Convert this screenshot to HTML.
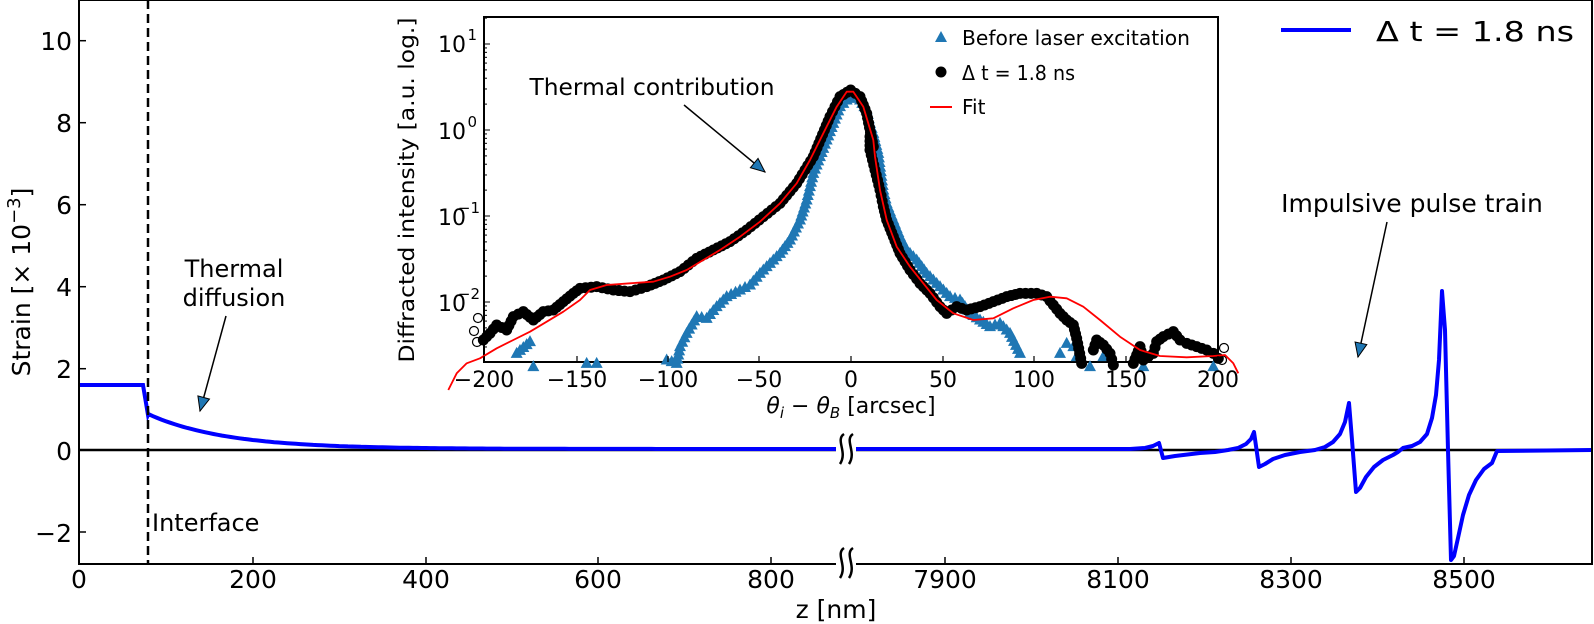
<!DOCTYPE html>
<html><head><meta charset="utf-8"><style>
html,body{margin:0;padding:0;background:#fff;}
svg{display:block;font-family:"DejaVu Sans","Liberation Sans",sans-serif;}
</style></head><body>
<svg id="s" width="1594" height="624" viewBox="0 0 1594 624" xmlns="http://www.w3.org/2000/svg">
<rect width="1594" height="624" fill="#fff"/>
<g id="main"></g>
<g id="inset"></g>
<g id="top"></g>
<g id="txt" fill="#000">
<g font-size="25" text-anchor="end">
<text x="72" y="50">10</text><text x="72" y="132">8</text><text x="72" y="214">6</text>
<text x="72" y="296">4</text><text x="72" y="378">2</text><text x="72" y="460">0</text>
<text x="72" y="542">−2</text>
</g>
<g font-size="25" text-anchor="middle">
<text x="79" y="588">0</text><text x="253" y="588">200</text><text x="426" y="588">400</text>
<text x="598" y="588">600</text><text x="771" y="588">800</text>
<text x="945" y="588">7900</text><text x="1118" y="588">8100</text><text x="1291" y="588">8300</text><text x="1464" y="588">8500</text>
<text x="836" y="618">z [nm]</text>
</g>
<text transform="translate(30,282) rotate(-90)" font-size="25" text-anchor="middle">Strain [× 10<tspan font-size="18" dy="-10">−3</tspan><tspan dy="10">]</tspan></text>
<text x="152" y="531" font-size="24">Interface</text>
<text x="234" y="277" font-size="24" text-anchor="middle">Thermal</text>
<text x="234" y="306" font-size="24" text-anchor="middle">diffusion</text>
<text x="1412" y="212" font-size="25" text-anchor="middle">Impulsive pulse train</text>
<line x1="1281" y1="30" x2="1351" y2="30" stroke="#0000ff" stroke-width="4"/>
<text x="1376" y="41" font-size="28" textLength="198" lengthAdjust="spacingAndGlyphs">Δ t = 1.8 ns</text>
<text x="652" y="95" font-size="23" text-anchor="middle" textLength="245" lengthAdjust="spacingAndGlyphs">Thermal contribution</text>
<g font-size="22" text-anchor="middle">
<text x="484" y="387">−200</text><text x="577" y="387">−150</text><text x="668" y="387">−100</text>
<text x="759" y="387">−50</text><text x="851" y="387">0</text><text x="943" y="387">50</text>
<text x="1034" y="387">100</text><text x="1126" y="387">150</text><text x="1218" y="387">200</text>
</g>
<text x="851" y="413" font-size="22" text-anchor="middle"><tspan font-style="italic">θ</tspan><tspan font-size="15" dy="5" font-style="italic">i</tspan><tspan dy="-5"> − </tspan><tspan font-style="italic">θ</tspan><tspan font-size="15" dy="5" font-style="italic">B</tspan><tspan dy="-5"> [arcsec]</tspan></text>
<g font-size="22" text-anchor="end">
<text x="466" y="52">10</text><text x="477" y="40" font-size="15">1</text>
<text x="466" y="139">10</text><text x="477" y="127" font-size="15">0</text>
<text x="466" y="225">10</text><text x="480" y="213" font-size="15">−1</text>
<text x="466" y="311">10</text><text x="480" y="299" font-size="15">−2</text>
</g>
<text transform="translate(414,190) rotate(-90)" font-size="21" text-anchor="middle" textLength="345" lengthAdjust="spacingAndGlyphs">Diffracted intensity [a.u. log.]</text>
<text x="962" y="45" font-size="20" textLength="228" lengthAdjust="spacingAndGlyphs">Before laser excitation</text>
<text x="962" y="80" font-size="20" textLength="113" lengthAdjust="spacingAndGlyphs">Δ t = 1.8 ns</text>
<text x="962" y="114" font-size="20">Fit</text>
<polygon points="941,31 947,42 935,42" fill="#1f77b4"/>
<circle cx="941" cy="72" r="5.5" fill="#000"/>
<line x1="930" y1="107" x2="952" y2="107" stroke="red" stroke-width="2"/>
</g>
</svg>
<script>
var NS="http://www.w3.org/2000/svg";
function el(p,t,a){var e=document.createElementNS(NS,t);for(var k in a)e.setAttribute(k,a[k]);p.appendChild(e);return e;}
var M=document.getElementById('main'),I=document.getElementById('inset'),T=document.getElementById('top');
el(M,'line',{x1:79,y1:450,x2:1592,y2:450,stroke:'#000','stroke-width':2.5});
var pts=[[79,385],[140,385],[143,385],[148,415]];
for(var z=80;z<=883;z+=5){var x=79+z*0.8675;var v=0.85*Math.exp(-(z-80)/89);pts.push([x,450-41*v-1]);}
var d='M'+pts.map(function(p){return p[0].toFixed(1)+','+p[1].toFixed(1)}).join('L');
el(M,'path',{d:d,fill:'none',stroke:'#0000ff','stroke-width':4});
var r=[[845,449],[1130,449],[1145,448],[1153,446],[1159,443],[1163,458],[1175,456],[1200,453],[1215,452],[1228,450],[1238,448],[1246,444],[1251,439],[1254,432],[1259,467],[1265,464],[1273,459],[1285,455],[1300,452],[1315,450],[1325,447],[1333,442],[1340,434],[1345,422],[1349,403],[1352,440],[1356,492],[1360,488],[1366,477],[1374,467],[1383,460],[1393,455],[1398,452],[1403,448],[1412,446],[1420,442],[1427,434],[1432,418],[1436,395],[1439,360],[1442,291],[1445,330],[1448,450],[1451,560],[1454,556],[1458,538],[1463,515],[1469,495],[1476,480],[1484,469],[1492,463],[1497,451],[1592,450]];
d='M'+r.map(function(p){return p.join(',')}).join('L');
el(M,'path',{d:d,fill:'none',stroke:'#0000ff','stroke-width':4,'stroke-linejoin':'round'});
el(M,'line',{x1:148,y1:0,x2:148,y2:564,stroke:'#000','stroke-width':2.5,'stroke-dasharray':'9,5'});
el(M,'rect',{x:79,y:0,width:1513,height:564,fill:'none',stroke:'#000','stroke-width':2});
[40.7,122.7,204.7,286.7,368.7,450,532].forEach(function(y){el(M,'line',{x1:79,y1:y,x2:86,y2:y,stroke:'#000','stroke-width':1.5});});
[79,253,426,598,771,945,1118,1291,1464].forEach(function(x){el(M,'line',{x1:x,y1:564,x2:x,y2:557,stroke:'#000','stroke-width':1.5});});
[450,564].forEach(function(y){
 el(M,'rect',{x:836,y:y-4,width:20,height:8,fill:'#fff'});
 [839,848].forEach(function(x){el(M,'path',{d:'M'+(x+5)+','+(y-16)+' C'+(x-4)+','+(y-10)+' '+(x+9)+','+(y+2)+' '+(x+1)+','+(y+14),fill:'none',stroke:'#000','stroke-width':2.5});});
});
function arrow(x1,y1,x2,y2){el(T,'line',{x1:x1,y1:y1,x2:x2,y2:y2,stroke:'#000','stroke-width':1.5});
 var a=Math.atan2(y2-y1,x2-x1),L=14,w=6;var bx=x2-L*Math.cos(a),by=y2-L*Math.sin(a);
 el(T,'polygon',{points:x2+','+y2+' '+(bx-w*Math.sin(a))+','+(by+w*Math.cos(a))+' '+(bx+w*Math.sin(a))+','+(by-w*Math.cos(a)),fill:'#1f77b4',stroke:'#000','stroke-width':1});}
arrow(226,316,200,411);
arrow(1387,222,1358,357);
arrow(684,105,765,172);
el(I,'rect',{x:484,y:17,width:734,height:345,fill:'#fff',stroke:'#000','stroke-width':2});
function dens(arr,step){var out=[];for(var i=0;i<arr.length-1;i++){var a=arr[i],b=arr[i+1];var dd=Math.hypot(b[0]-a[0],b[1]-a[1]);var n=Math.max(1,Math.round(dd/step));for(var j=0;j<n;j++)out.push([a[0]+(b[0]-a[0])*j/n,a[1]+(b[1]-a[1])*j/n]);}out.push(arr[arr.length-1]);return out;}
function z1(a){return a.map(function(p){return [380+p[0]/3,p[1]/3]});}
function z10(a){return a.map(function(p){return [820+p[0]/3,120+p[1]/3]});}
var tl=z1([[410,1060],[450,1025]]).concat(z1([[860,1080],[890,1090],[900,1040],[920,1000],[950,950],[980,955],[1010,920],[1040,890],[1080,870],[1110,855],[1140,820],[1170,790],[1200,760],[1230,720],[1260,660],[1280,600],[1300,520],[1320,470],[1340,420],[1360,370],[1380,320],[1410,290],[1440,300],[1460,330]]),z10([[150,10],[160,40],[175,100],[190,210],[200,250],[220,300],[240,350],[260,390],[290,420],[320,460],[350,490],[390,530],[420,540],[450,580],[480,600],[510,620],[540,610],[570,640],[600,700]]));
var tris=dens(tl.slice(2),4.5).concat(dens(tl.slice(0,2),4.5));
[[460,1100],[620,1090],[650,1090]].forEach(function(p){tris.push([380+p[0]/3,p[1]/3]);});
[[720,700],[740,670],[760,680],[770,710],[810,740],[850,710],[970,740],[1180,740]].forEach(function(p){tris.push([820+p[0]/3,120+p[1]/3]);});
tris.forEach(function(p){var x=p[0],y=p[1];el(I,'polygon',{points:x+','+(y-6.5)+' '+(x+6)+','+(y+4.5)+' '+(x-6)+','+(y+4.5),fill:'#1f77b4'});});
var dl=z1([[310,1020],[330,1000],[350,975],[380,990],[400,950],[430,935],[460,960],[490,935],[520,930],[550,905],[580,880],[600,865],[650,860],[700,870],[750,875],[800,860],[850,840],[900,815],[950,775],[1000,750],[1050,725],[1100,690],[1150,650],[1200,610],[1250,550],[1300,470],[1350,350],[1380,290],[1412,270],[1440,290],[1460,340],[1480,440]]).concat(z10([[150,50],[150,90],[165,150],[180,210],[190,260],[200,300],[220,350],[240,400],[270,450],[300,490],[330,520],[360,560],[380,580],[410,560],[440,570],[480,560],[520,545],[560,530],[600,520],[650,520],[680,530],[700,555],[720,580],[740,600],[760,615],[770,655],[785,730]]));
var dots=dens(dl,5);
var dl2=z10([[820,690],[830,660],[850,675],[870,700],[880,735]]);dots=dots.concat(dens(dl2,5));
var dl3=z10([[940,730],[960,680],[970,720],[1000,700],[1010,665],[1030,650],[1060,635],[1080,660],[1100,670],[1130,680],[1160,690],[1180,700],[1195,715]]);dots=dots.concat(dens(dl3,5));
dots.forEach(function(p){el(I,'circle',{cx:p[0],cy:p[1],r:5.5,fill:'#000'});});
[[478,318],[474,331],[477,342],[1224,348],[1222,360]].forEach(function(p){el(I,'circle',{cx:p[0],cy:p[1],r:4.5,fill:'none',stroke:'#000','stroke-width':1.2});});
var fl=z1([[205,1170],[230,1120],[260,1090],[300,1075],[350,1045],[400,1020],[450,995],[500,965],[550,935],[600,900],[630,870],[680,855],[750,850],[820,845],[870,830],[920,810],[970,780],[1020,750],[1080,710],[1140,665],[1200,610],[1250,550],[1290,480],[1330,400],[1370,320],[1400,275],[1420,275],[1450,320],[1480,420]]).concat(z10([[165,110],[180,210],[200,300],[230,380],[270,440],[310,490],[350,540],[400,580],[460,600],[520,595],[580,565],[640,540],[690,530],[740,535],[790,560],[840,600],[900,650],[960,690],[1020,708],[1100,712],[1180,708],[1215,705],[1240,730],[1255,760]]));
el(I,'path',{d:'M'+fl.map(function(p){return p[0].toFixed(1)+','+p[1].toFixed(1)}).join('L'),fill:'none',stroke:'red','stroke-width':1.8,'stroke-linejoin':'round'});
[484,577,668,759,851,943,1034,1126,1218].forEach(function(x){el(I,'line',{x1:x,y1:362,x2:x,y2:356,stroke:'#000','stroke-width':1.2});});
for(var e=-3;e<=1;e++){for(var m=1;m<10;m++){var y=130-86*(e+Math.log10(m));if(y<17||y>362)continue;el(I,'line',{x1:484,y1:y,x2:484+(m==1?6:3),y2:y,stroke:'#000','stroke-width':1});}}
</script>
</body></html>
